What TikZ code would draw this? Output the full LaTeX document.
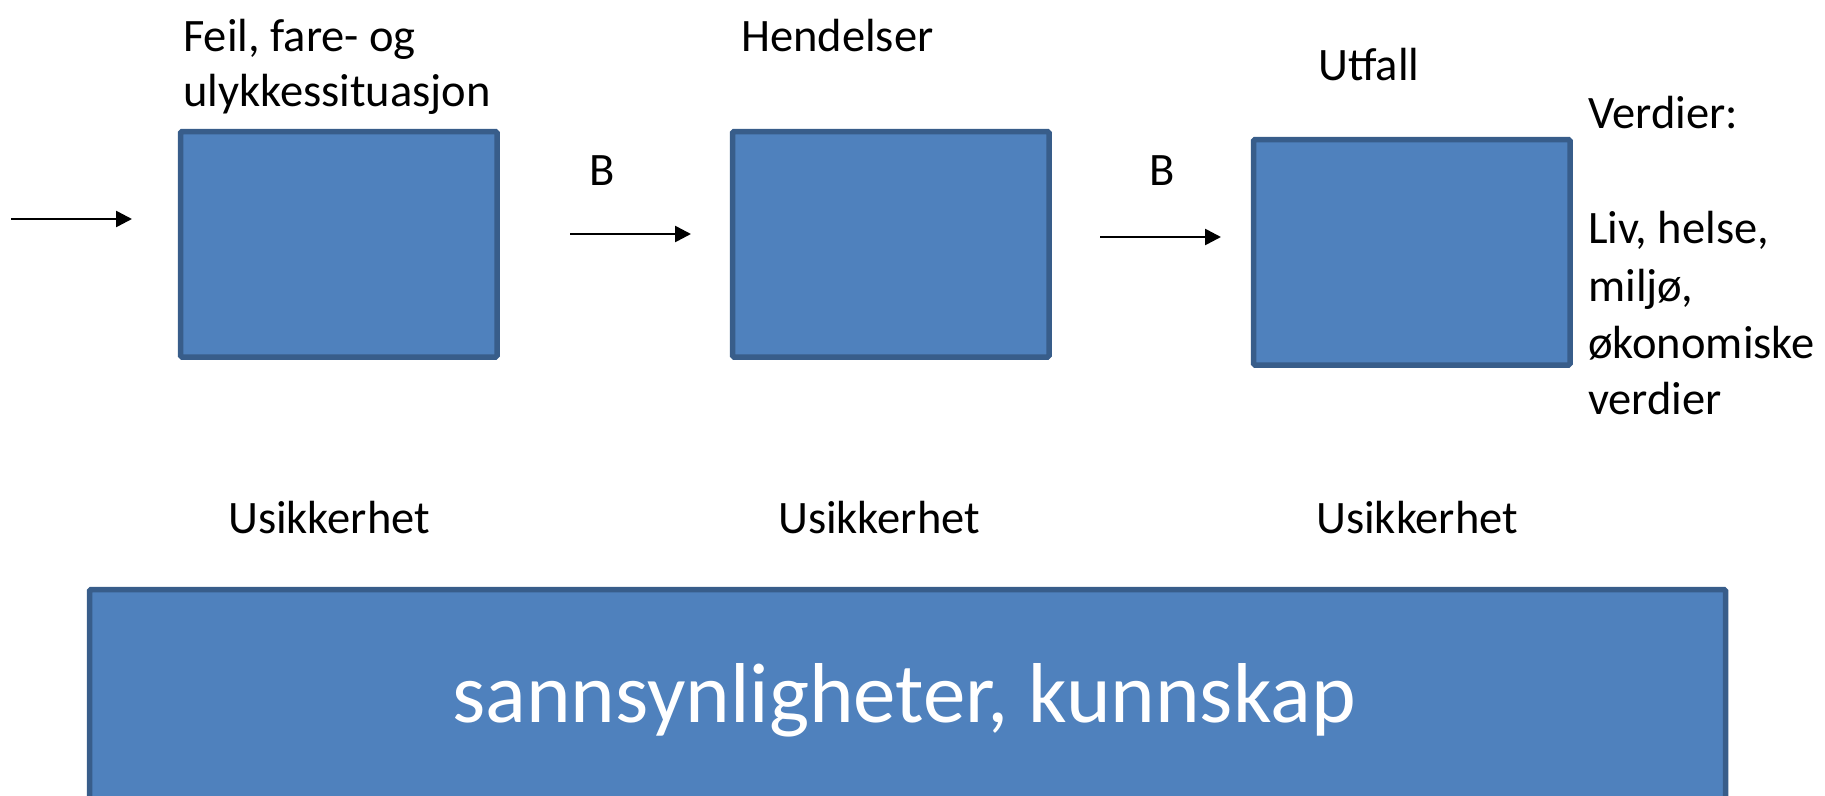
\documentclass[tikz,border=0pt]{standalone}
\usepackage{fontspec}
\setmainfont{Carlito}
\usetikzlibrary{arrows.meta}
\definecolor{boxfill}{HTML}{4F81BD}
\definecolor{boxline}{HTML}{385D8A}
\tikzset{
  block/.style={draw=boxline, fill=boxfill, line width=5.5pt, rounded corners=1.5pt,
                inner sep=0pt, anchor=north west},
  flow/.style={line width=2.6pt, -{Triangle[length=16pt,width=16pt]}},
  lbl/.style={font=\fontsize{46.5}{56}\selectfont, inner sep=0pt, anchor=base west},
  lblc/.style={font=\fontsize{46.5}{56}\selectfont, inner sep=0pt, anchor=base},
}
\begin{document}
\begin{tikzpicture}[x=1pt,y=-1pt]
\useasboundingbox (0,0) rectangle (1825,795);
\clip (0,0) rectangle (1825,795);

% stages
\node[block, minimum width=316.5pt, minimum height=225.5pt] (feil) at (177.75,128.75) {};
\node[block, minimum width=316.5pt, minimum height=225.5pt] (hend) at (729.75,128.75) {};
\node[block, minimum width=316.5pt, minimum height=225.5pt] (utf) at (1250.75,136.75) {};

% knowledge base
\node[block, minimum width=1636pt, minimum height=260pt] (kunn) at (86.75,586.75) {};
\node[text=white, font=\fontsize{85}{100}\selectfont, inner sep=0pt, anchor=base] (kunntxt) at (904,722) {sannsynligheter, kunnskap};

% arrows
\coordinate (a0) at (11,219);
\coordinate (a1) at (132,219);
\coordinate (b0) at (570,234);
\coordinate (b1) at (691,234);
\coordinate (c0) at (1100,237);
\coordinate (c1) at (1221,237);
\draw[flow] (a0) -- (a1);
\draw[flow] (b0) -- (b1);
\draw[flow] (c0) -- (c1);

% labels
\node[lbl] (t1a) at (183,51) {Feil, fare- og};
\node[lbl] (t1b) at (183,106) {ulykkessituasjon};
\node[lbl] (t2) at (741,51) {Hendelser};
\node[lblc] (t3) at (1369,80) {Utfall};
\node[lblc] (bb1) at (602,185) {B};
\node[lblc] (bb2) at (1162,185) {B};
\node[lbl] (v0) at (1588,128) {Verdier:};
\node[lbl] (v1) at (1588,243) {Liv, helse,};
\node[lbl] (v2) at (1588,301) {miljø,};
\node[lbl] (v3) at (1588,358) {økonomiske};
\node[lbl] (v4) at (1588,414) {verdier};
\node[lblc] (u1) at (329,533) {Usikkerhet};
\node[lblc] (u2) at (879,533) {Usikkerhet};
\node[lblc] (u3) at (1417,533) {Usikkerhet};
\end{tikzpicture}
\end{document}
